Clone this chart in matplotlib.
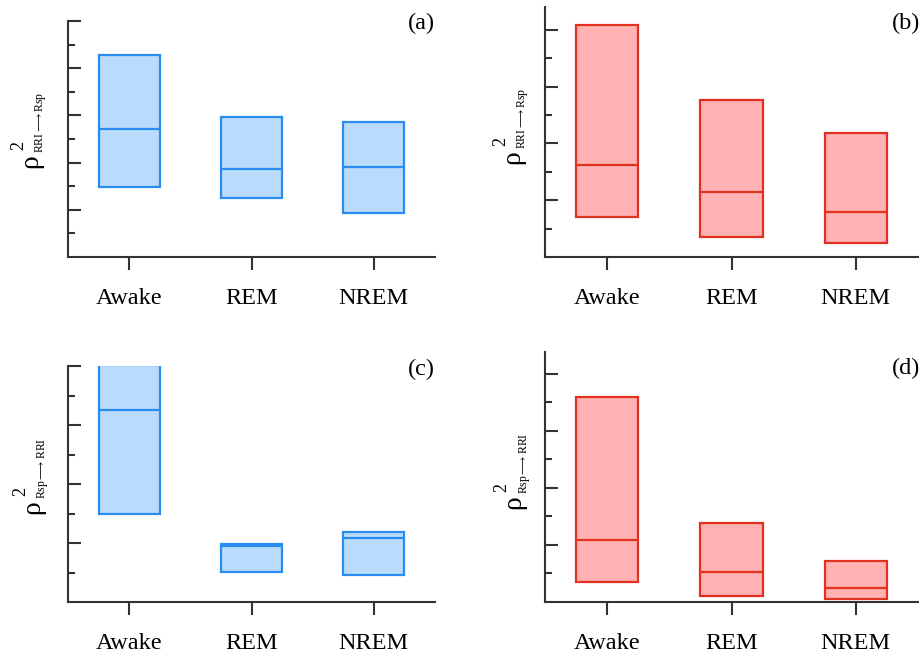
import matplotlib
matplotlib.use("Agg")
import matplotlib.pyplot as plt
import numpy as np

plt.rcParams['font.family'] = ['Liberation Serif', 'DejaVu Serif']
plt.rcParams['mathtext.fontset'] = 'custom'
plt.rcParams['mathtext.rm'] = 'Liberation Serif'
plt.rcParams['mathtext.it'] = 'Liberation Serif:italic'
plt.rcParams['mathtext.bf'] = 'Liberation Serif:bold'

categories = ["Awake", "REM", "NREM"]

# panel (a): RRI -> Rsp, blue
a_low = [1.49, 1.24, 0.93]
a_med = [2.71, 1.86, 1.91]
a_high = [4.28, 2.97, 2.85]
# panel (b): RRI -> Rsp, red
b_low = [0.70, 0.35, 0.25]
b_med = [1.62, 1.14, 0.79]
b_high = [4.08, 2.77, 2.19]
# panel (c): Rsp -> RRI, blue
c_low = [1.50, 0.505, 0.45]
c_med = [3.25, 0.95, 1.08]
c_high = [4.01, 0.975, 1.18]
# panel (d): Rsp -> RRI, red
d_low = [0.345, 0.11, 0.06]
d_med = [1.08, 0.52, 0.25]
d_high = [3.60, 1.39, 0.72]

panel_tags = ["(a)", "(b)", "(c)", "(d)"]
subscripts = [r"RRI$\longrightarrow$Rsp", r"RRI$\longrightarrow$Rsp",
              r"Rsp$\longrightarrow$RRI", r"Rsp$\longrightarrow$RRI"]

W, H = 919, 657
fig = plt.figure(figsize=(W / 100, H / 100), dpi=100)

def fx(px):
    return px / W

def fy(py):
    return 1 - py / H

BLUE_FILL, BLUE_EDGE = "#b9dbfc", "#2b8cf0"
RED_FILL, RED_EDGE = "#ffb1b3", "#e0321f"

panels = [
    dict(low=a_low, med=a_med, high=a_high, fill=BLUE_FILL, edge=BLUE_EDGE,
         box=(68, 435, 21, 257), ylim=5.0, majors=[1, 2, 3, 4, 5],
         minors=[0.5, 1.5, 2.5, 3.5, 4.5], tag=(421.7, 23), rho=(31, 161)),
    dict(low=b_low, med=b_med, high=b_high, fill=RED_FILL, edge=RED_EDGE,
         box=(545, 918, 7, 257), ylim=4.4, majors=[1, 2, 3, 4],
         minors=[0.5, 1.5, 2.5, 3.5], tag=(906, 23), rho=(513, 157)),
    dict(low=c_low, med=c_med, high=c_high, fill=BLUE_FILL, edge=BLUE_EDGE,
         box=(68, 435, 366, 602), ylim=4.0, majors=[1, 2, 3, 4],
         minors=[0.5, 1.5, 2.5, 3.5], tag=(421.7, 369), rho=(33, 507)),
    dict(low=d_low, med=d_med, high=d_high, fill=RED_FILL, edge=RED_EDGE,
         box=(545, 918, 351.7, 602), ylim=4.39, majors=[1, 2, 3, 4],
         minors=[0.5, 1.5, 2.5, 3.5], tag=(906, 368), rho=(514, 502)),
]

x = np.arange(len(categories))
for i, p in enumerate(panels):
    l, r, t, b = p["box"]
    ax = fig.add_axes([fx(l), fy(b), fx(r) - fx(l), fy(t) - fy(b)])
    low = np.array(p["low"])
    high = np.array(p["high"])
    ax.bar(x, high - low, bottom=low, width=0.5, color=p["fill"],
           edgecolor=p["edge"], linewidth=1.6, zorder=2)
    ax.hlines(p["med"], x - 0.25, x + 0.25, color=p["edge"], linewidth=1.6, zorder=3)
    ax.set_xlim(-0.5, 2.5)
    ax.set_ylim(0, p["ylim"])
    for s in ["top", "right"]:
        ax.spines[s].set_visible(False)
    for s in ["left", "bottom"]:
        ax.spines[s].set_linewidth(1.5)
        ax.spines[s].set_color("#333333")
    ax.set_xticks(x)
    ax.set_xticklabels(categories, fontsize=17.5)
    ax.tick_params(axis="x", direction="out", length=9.5, width=1.5,
                   color="#333333", pad=12.5)
    ax.set_yticks(p["majors"])
    ax.set_yticks(p["minors"], minor=True)
    ax.set_yticklabels([])
    ax.tick_params(axis="y", which="major", direction="in", length=9.5,
                   width=1.5, color="#333333")
    ax.tick_params(axis="y", which="minor", direction="in", length=5,
                   width=1.5, color="#333333")
    ax.patch.set_alpha(0)
    fig.text(fx(p["tag"][0]), fy(p["tag"][1]), panel_tags[i], fontsize=17.5,
             ha="center", va="center")
    cx, cy = p["rho"]
    fig.text(fx(cx), fy(cy), "ρ", fontsize=20, rotation=90,
             ha="center", va="center")
    fig.text(fx(cx - 12), fy(cy - 15), "2", fontsize=13, rotation=90,
             ha="center", va="center")
    fig.text(fx(cx + 10), fy(cy - 8), subscripts[i], fontsize=8.5, rotation=90,
             ha="center", va="bottom")

fig.savefig("out.png", dpi=100)
